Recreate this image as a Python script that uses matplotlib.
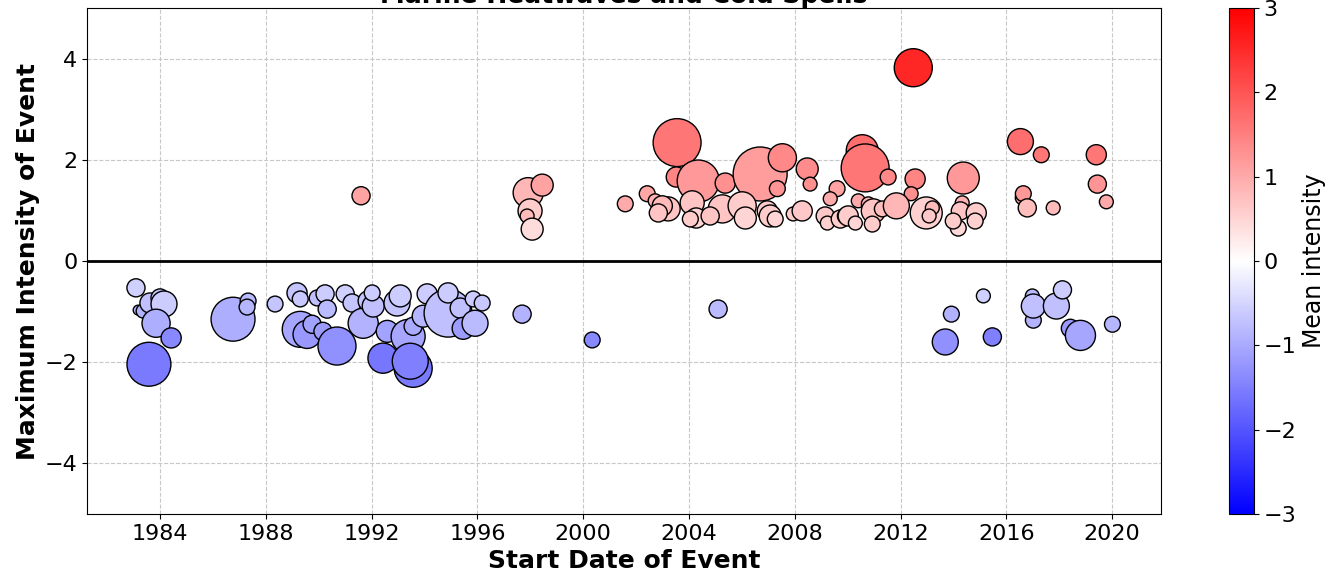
import numpy as np
import matplotlib
matplotlib.use('Agg')
from matplotlib import pyplot as plt

# =================================
# Event data: start (decimal year), peak intensity, mean intensity, duration (days)
# =================================
start_year = [
    # cold events
    1983.09, 1983.17, 1983.36, 1983.62, 1984.00, 1984.15, 1983.85, 1984.42, 1983.58,
    1986.65, 1986.76, 1987.33, 1987.29, 1988.35,
    1989.18, 1989.30, 1989.94, 1990.24, 1990.32, 1989.30, 1989.56, 1989.75, 1990.16,
    1990.69, 1991.00, 1991.26, 1991.68, 1991.87, 1992.06, 1992.02, 1992.43, 1992.59,
    1992.96, 1993.08, 1993.38, 1993.57, 1993.46, 1993.57, 1994.10, 1993.95, 1994.48,
    1994.89, 1994.89, 1995.35, 1995.46, 1995.84, 1996.18, 1995.91, 1997.69,
    2000.34, 2005.10,
    2013.69, 2013.92, 2015.13, 2015.47, 2016.98, 2017.02, 2017.02, 2017.89, 2018.12,
    2018.42, 2018.80, 2020.01,
    # warm events
    1991.60, 1997.92, 1998.45, 1997.99, 1997.88, 1998.07, 2001.59,
    2002.42, 2002.72, 2003.55, 2003.52, 2003.21, 2002.99, 2002.84, 2004.35, 2005.37,
    2006.69, 2007.53, 2007.34, 2008.47, 2008.58, 2009.60, 2009.34, 2004.12, 2004.27,
    2004.05, 2005.26, 2004.80, 2006.01, 2006.13, 2006.96, 2007.07, 2007.26, 2007.94,
    2008.28, 2009.15, 2009.23, 2009.72, 2009.91,
    2010.02, 2010.29, 2010.40, 2010.78, 2010.97, 2010.93, 2011.31,
    2012.48, 2010.55, 2010.66, 2011.53, 2012.55, 2012.40, 2011.84, 2012.97, 2013.20,
    2013.08, 2014.37, 2014.33, 2014.26, 2014.18, 2013.99, 2014.86, 2014.82,
    2016.53, 2017.32, 2016.60, 2016.64, 2016.79, 2017.77, 2019.40, 2019.44, 2019.78,
]

max_intensity = [
    -0.53, -0.97, -0.99, -0.83, -0.73, -0.85, -1.23, -1.52, -2.04,
    -1.29, -1.15, -0.79, -0.91, -0.85,
    -0.63, -0.75, -0.73, -0.65, -0.95, -1.35, -1.45, -1.25, -1.39,
    -1.68, -0.65, -0.83, -1.23, -0.79, -0.89, -0.63, -1.92, -1.39,
    -0.83, -0.69, -1.49, -2.12, -1.98, -1.29, -0.65, -1.09, -0.93,
    -1.03, -0.63, -0.93, -1.33, -0.75, -0.83, -1.23, -1.05,
    -1.56, -0.95,
    -1.60, -1.05, -0.69, -1.50, -0.69, -1.17, -0.89, -0.89, -0.57,
    -1.33, -1.47, -1.25,
    1.29, 1.35, 1.50, 0.99, 0.89, 0.63, 1.13,
    1.33, 1.19, 2.34, 1.66, 1.03, 1.09, 0.95, 1.58, 1.54,
    1.72, 2.04, 1.43, 1.82, 1.52, 1.43, 1.23, 1.15, 0.85,
    0.83, 1.03, 0.89, 1.09, 0.85, 0.99, 0.89, 0.83, 0.93,
    0.99, 0.89, 0.75, 0.83, 0.89,
    0.89, 0.75, 1.19, 1.13, 0.99, 0.73, 1.03,
    3.82, 2.18, 1.84, 1.66, 1.62, 1.33, 1.09, 0.95, 1.05,
    0.89, 1.64, 1.15, 0.99, 0.65, 0.79, 0.95, 0.79,
    2.36, 2.10, 1.25, 1.33, 1.05, 1.05, 2.10, 1.52, 1.17,
]

mean_intensity = [
    -0.55, -0.90, -0.90, -0.75, -0.70, -0.60, -0.95, -1.40, -1.55,
    -1.20, -0.95, -0.80, -0.85, -0.70,
    -0.70, -0.65, -0.75, -0.60, -0.80, -1.05, -1.20, -1.10, -1.15,
    -1.30, -0.55, -0.70, -0.90, -0.70, -0.75, -0.60, -1.60, -1.10,
    -0.70, -0.60, -1.05, -1.55, -1.50, -1.00, -0.60, -0.85, -0.75,
    -0.75, -0.60, -0.75, -1.15, -0.60, -0.65, -0.80, -0.90,
    -1.40, -0.80,
    -1.30, -0.90, -0.55, -1.50, -0.80, -0.90, -0.75, -0.75, -0.60,
    -1.20, -1.05, -0.85,
    1.10, 0.85, 1.10, 0.60, 0.80, 0.40, 1.00,
    1.05, 0.90, 1.60, 1.45, 0.70, 0.80, 0.70, 1.20, 1.30,
    1.15, 1.40, 1.25, 1.35, 1.30, 1.10, 1.00, 0.70, 0.50,
    0.60, 0.70, 0.70, 0.60, 0.50, 0.60, 0.60, 0.50, 0.60,
    0.65, 0.65, 0.55, 0.60, 0.60,
    0.60, 0.50, 1.00, 0.90, 0.70, 0.60, 0.75,
    2.55, 1.70, 1.60, 1.40, 1.45, 1.30, 0.85, 0.55, 0.80,
    0.65, 1.20, 0.90, 0.70, 0.45, 0.60, 0.60, 0.55,
    1.70, 1.60, 1.10, 1.20, 0.75, 0.80, 1.60, 1.25, 1.00,
]

duration_days = [
    17, 5, 10, 21, 17, 35, 41, 21, 100,
    21, 100, 13, 13, 13,
    21, 13, 13, 17, 17, 67, 41, 17, 17,
    75, 17, 17, 47, 21, 25, 13, 47, 25,
    35, 25, 60, 75, 67, 17, 21, 25, 25,
    119, 21, 21, 25, 13, 13, 35, 17,
    13, 17,
    35, 13, 10, 17, 10, 13, 30, 35, 17,
    17, 47, 13,
    17, 47, 25, 30, 10, 25, 13,
    13, 10, 119, 21, 30, 21, 17, 92, 21,
    151, 41, 13, 25, 10, 13, 10, 30, 21,
    13, 41, 17, 41, 25, 21, 25, 13, 10,
    21, 17, 10, 17, 13,
    21, 10, 10, 10, 30, 13, 13,
    75, 53, 119, 13, 21, 10, 35, 53, 10,
    10, 53, 10, 17, 13, 13, 21, 13,
    35, 13, 10, 13, 17, 10, 21, 17, 10,
]

year_ticks = list(range(1984, 2021, 4))

# =================================
# Scatter of events, coloured by mean intensity and sized by duration
# =================================
fig = plt.figure(figsize=(13.25, 5.76), dpi=100)
ax = fig.add_axes([0.0657, 0.1076, 0.8106, 0.8785])
cax = fig.add_axes([0.9275, 0.1076, 0.0189, 0.8785])

sizes = np.array(duration_days) * 10.0
sc = ax.scatter(start_year, max_intensity, s=sizes, c=mean_intensity,
                cmap='bwr', vmin=-3, vmax=3, edgecolors='k', linewidths=1.0,
                zorder=3)

ax.axhline(0, color='k', lw=2, zorder=2)
ax.grid(True, linestyle='--', color='#c8c8c8', lw=0.8, zorder=0)
ax.set_axisbelow(True)

ax.set_xlim(1981.24, 2021.85)
ax.set_ylim(-5, 5)
ax.set_xticks(year_ticks)
ax.set_xticklabels([str(y) for y in year_ticks])
ax.set_yticks([-4, -2, 0, 2, 4])
ax.tick_params(labelsize=16)

ax.set_xlabel('Start Date of Event', fontsize=18, fontweight='bold', labelpad=4)
ax.set_ylabel('Maximum Intensity of Event', fontsize=18, fontweight='bold', labelpad=3)
# fixed y so the title sits right at the top edge of the figure
ax.set_title('Marine Heatwaves and Cold Spells', fontsize=18,
             fontweight='bold', y=1.0, pad=3.5)

cbar = fig.colorbar(sc, cax=cax)
cbar.set_ticks([-3, -2, -1, 0, 1, 2, 3])
cbar.ax.tick_params(labelsize=16)
cbar.set_label('Mean intensity', fontsize=17)

fig.savefig('out.png', dpi=100)
